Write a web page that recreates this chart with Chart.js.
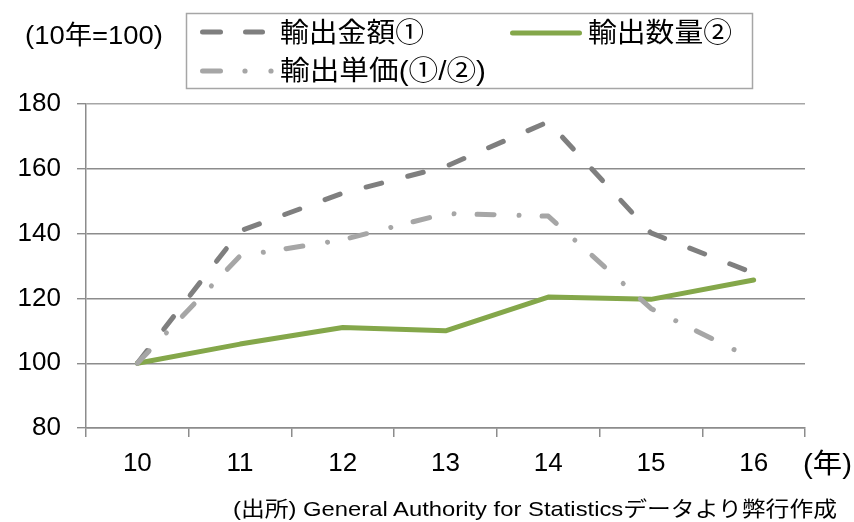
<!DOCTYPE html>
<html>
<head>
<meta charset="utf-8">
<script src="https://cdn.jsdelivr.net/npm/chart.js@4"></script>
<style>
  html, body { margin: 0; padding: 0; background: #fff; }
  #wrap { position: relative; width: 854px; height: 522px; }
  #c { position: absolute; left: 0; top: 0; }
  #ov { position: absolute; left: 0; top: 0; }
  .t { font-family: "Liberation Sans", "Noto Sans CJK JP", sans-serif; fill: #000; }
</style>
</head>
<body>
<div id="wrap">
  <canvas id="c" width="854" height="522"></canvas>
  <svg id="ov" width="854" height="522" xmlns="http://www.w3.org/2000/svg">
    <text class="t" x="25" y="35" font-size="26" dominant-baseline="central" textLength="138" lengthAdjust="spacingAndGlyphs">(10年=100)</text>
    <rect x="186.5" y="13.5" width="566" height="75" fill="#fff" stroke="#a6a6a6" stroke-width="1.5"/>
    <line x1="202.5" y1="32" x2="220.5" y2="32" stroke="#7f7f7f" stroke-width="5" stroke-linecap="round"/>
    <line x1="245.5" y1="32" x2="262.5" y2="32" stroke="#7f7f7f" stroke-width="5" stroke-linecap="round"/>
    <text id="lg1" class="t" x="280" y="33" font-size="27" dominant-baseline="central" textLength="144" lengthAdjust="spacingAndGlyphs"></text>
    <line x1="512.5" y1="33" x2="579.5" y2="33" stroke="#84a74a" stroke-width="5" stroke-linecap="round"/>
    <text id="lg2" class="t" x="588" y="33" font-size="27" dominant-baseline="central" textLength="144" lengthAdjust="spacingAndGlyphs"></text>
    <line x1="202.5" y1="71" x2="220.5" y2="71" stroke="#a6a6a6" stroke-width="5" stroke-linecap="round"/>
    <circle cx="245" cy="71" r="2.6" fill="#a6a6a6"/>
    <circle cx="271" cy="71" r="2.6" fill="#a6a6a6"/>
    <text id="lg3" class="t" x="280" y="71" font-size="27" dominant-baseline="central" textLength="206" lengthAdjust="spacingAndGlyphs"></text>
    <text class="t" x="803" y="464" font-size="27" dominant-baseline="central" textLength="49" lengthAdjust="spacingAndGlyphs">(年)</text>
    <text class="t" x="233" y="508" font-size="21" dominant-baseline="central" textLength="604" lengthAdjust="spacingAndGlyphs">(出所) General Authority for Statisticsデータより弊行作成</text>
  </svg>
</div>
<script>
// ---- data ----
const years = ['10', '11', '12', '13', '14', '15', '16'];
const exportValue = [100, 140.8, 152.5, 160.7, 174.5, 140.2, 127.8];   // 輸出金額①
const exportVolume = [100, 105.9, 111.0, 110.0, 120.4, 119.7, 125.7];  // 輸出数量②
const unitPrice = [100, 133.1, 138.1, 146.2, 145.4, 116.9, 101.2];     // 輸出単価(①/②)
const seriesNames = ['輸出金額①', '輸出数量②', '輸出単価(①/②)'];
const yMin = 80, yMax = 180, yStep = 20;

document.getElementById('lg1').textContent = seriesNames[0];
document.getElementById('lg2').textContent = seriesNames[1];
document.getElementById('lg3').textContent = seriesNames[2];

const tickFont = { family: '"Liberation Sans", Arial, sans-serif', size: 26 };
const gridGray = '#8c8c8c';

new Chart(document.getElementById('c'), {
  type: 'line',
  data: {
    labels: years,
    datasets: [
      {
        label: seriesNames[0], data: exportValue,
        borderColor: '#7f7f7f', borderWidth: 5, borderDash: [16, 27],
        borderCapStyle: 'round', borderJoinStyle: 'round',
        pointRadius: 0, tension: 0, fill: false, order: 2
      },
      {
        label: seriesNames[1], data: exportVolume,
        borderColor: '#84a74a', borderWidth: 5,
        borderCapStyle: 'round', borderJoinStyle: 'round',
        pointRadius: 0, tension: 0, fill: false, order: 1
      },
      {
        label: seriesNames[2], data: unitPrice,
        borderColor: '#a6a6a6', borderWidth: 5, borderDash: [17, 25, 0.01, 23],
        borderCapStyle: 'round', borderJoinStyle: 'round',
        pointRadius: 0, tension: 0, fill: false, order: 0
      }
    ]
  },
  options: {
    responsive: false,
    devicePixelRatio: 1,
    animation: false,
    layout: { padding: { top: 104, right: 49, bottom: 0, left: 0 } },
    plugins: { legend: { display: false }, tooltip: { enabled: false } },
    scales: {
      x: {
        type: 'category',
        offset: true,
        grid: {
          offset: true,
          drawOnChartArea: true,
          color: (ctx) => (ctx.index === years.length ? '#b0b0b0' : 'rgba(0,0,0,0)'),
          tickColor: gridGray,
          tickLength: 9,
          lineWidth: 1.5
        },
        border: { color: gridGray, width: 1.5 },
        ticks: { font: tickFont, color: '#000', padding: 11, maxRotation: 0 },
        afterFit: (s) => { s.height = 94; }
      },
      y: {
        min: yMin, max: yMax,
        grid: {
          color: (ctx) => (ctx.tick && ctx.tick.value === yMax ? '#a6a6a6' : gridGray),
          tickColor: gridGray,
          tickLength: 9,
          lineWidth: 1.4
        },
        border: { color: gridGray, width: 1.5 },
        ticks: { stepSize: yStep, font: tickFont, color: '#000', padding: 16 },
        afterFit: (s) => { s.width = 86; }
      }
    }
  }
});
</script>
</body>
</html>
